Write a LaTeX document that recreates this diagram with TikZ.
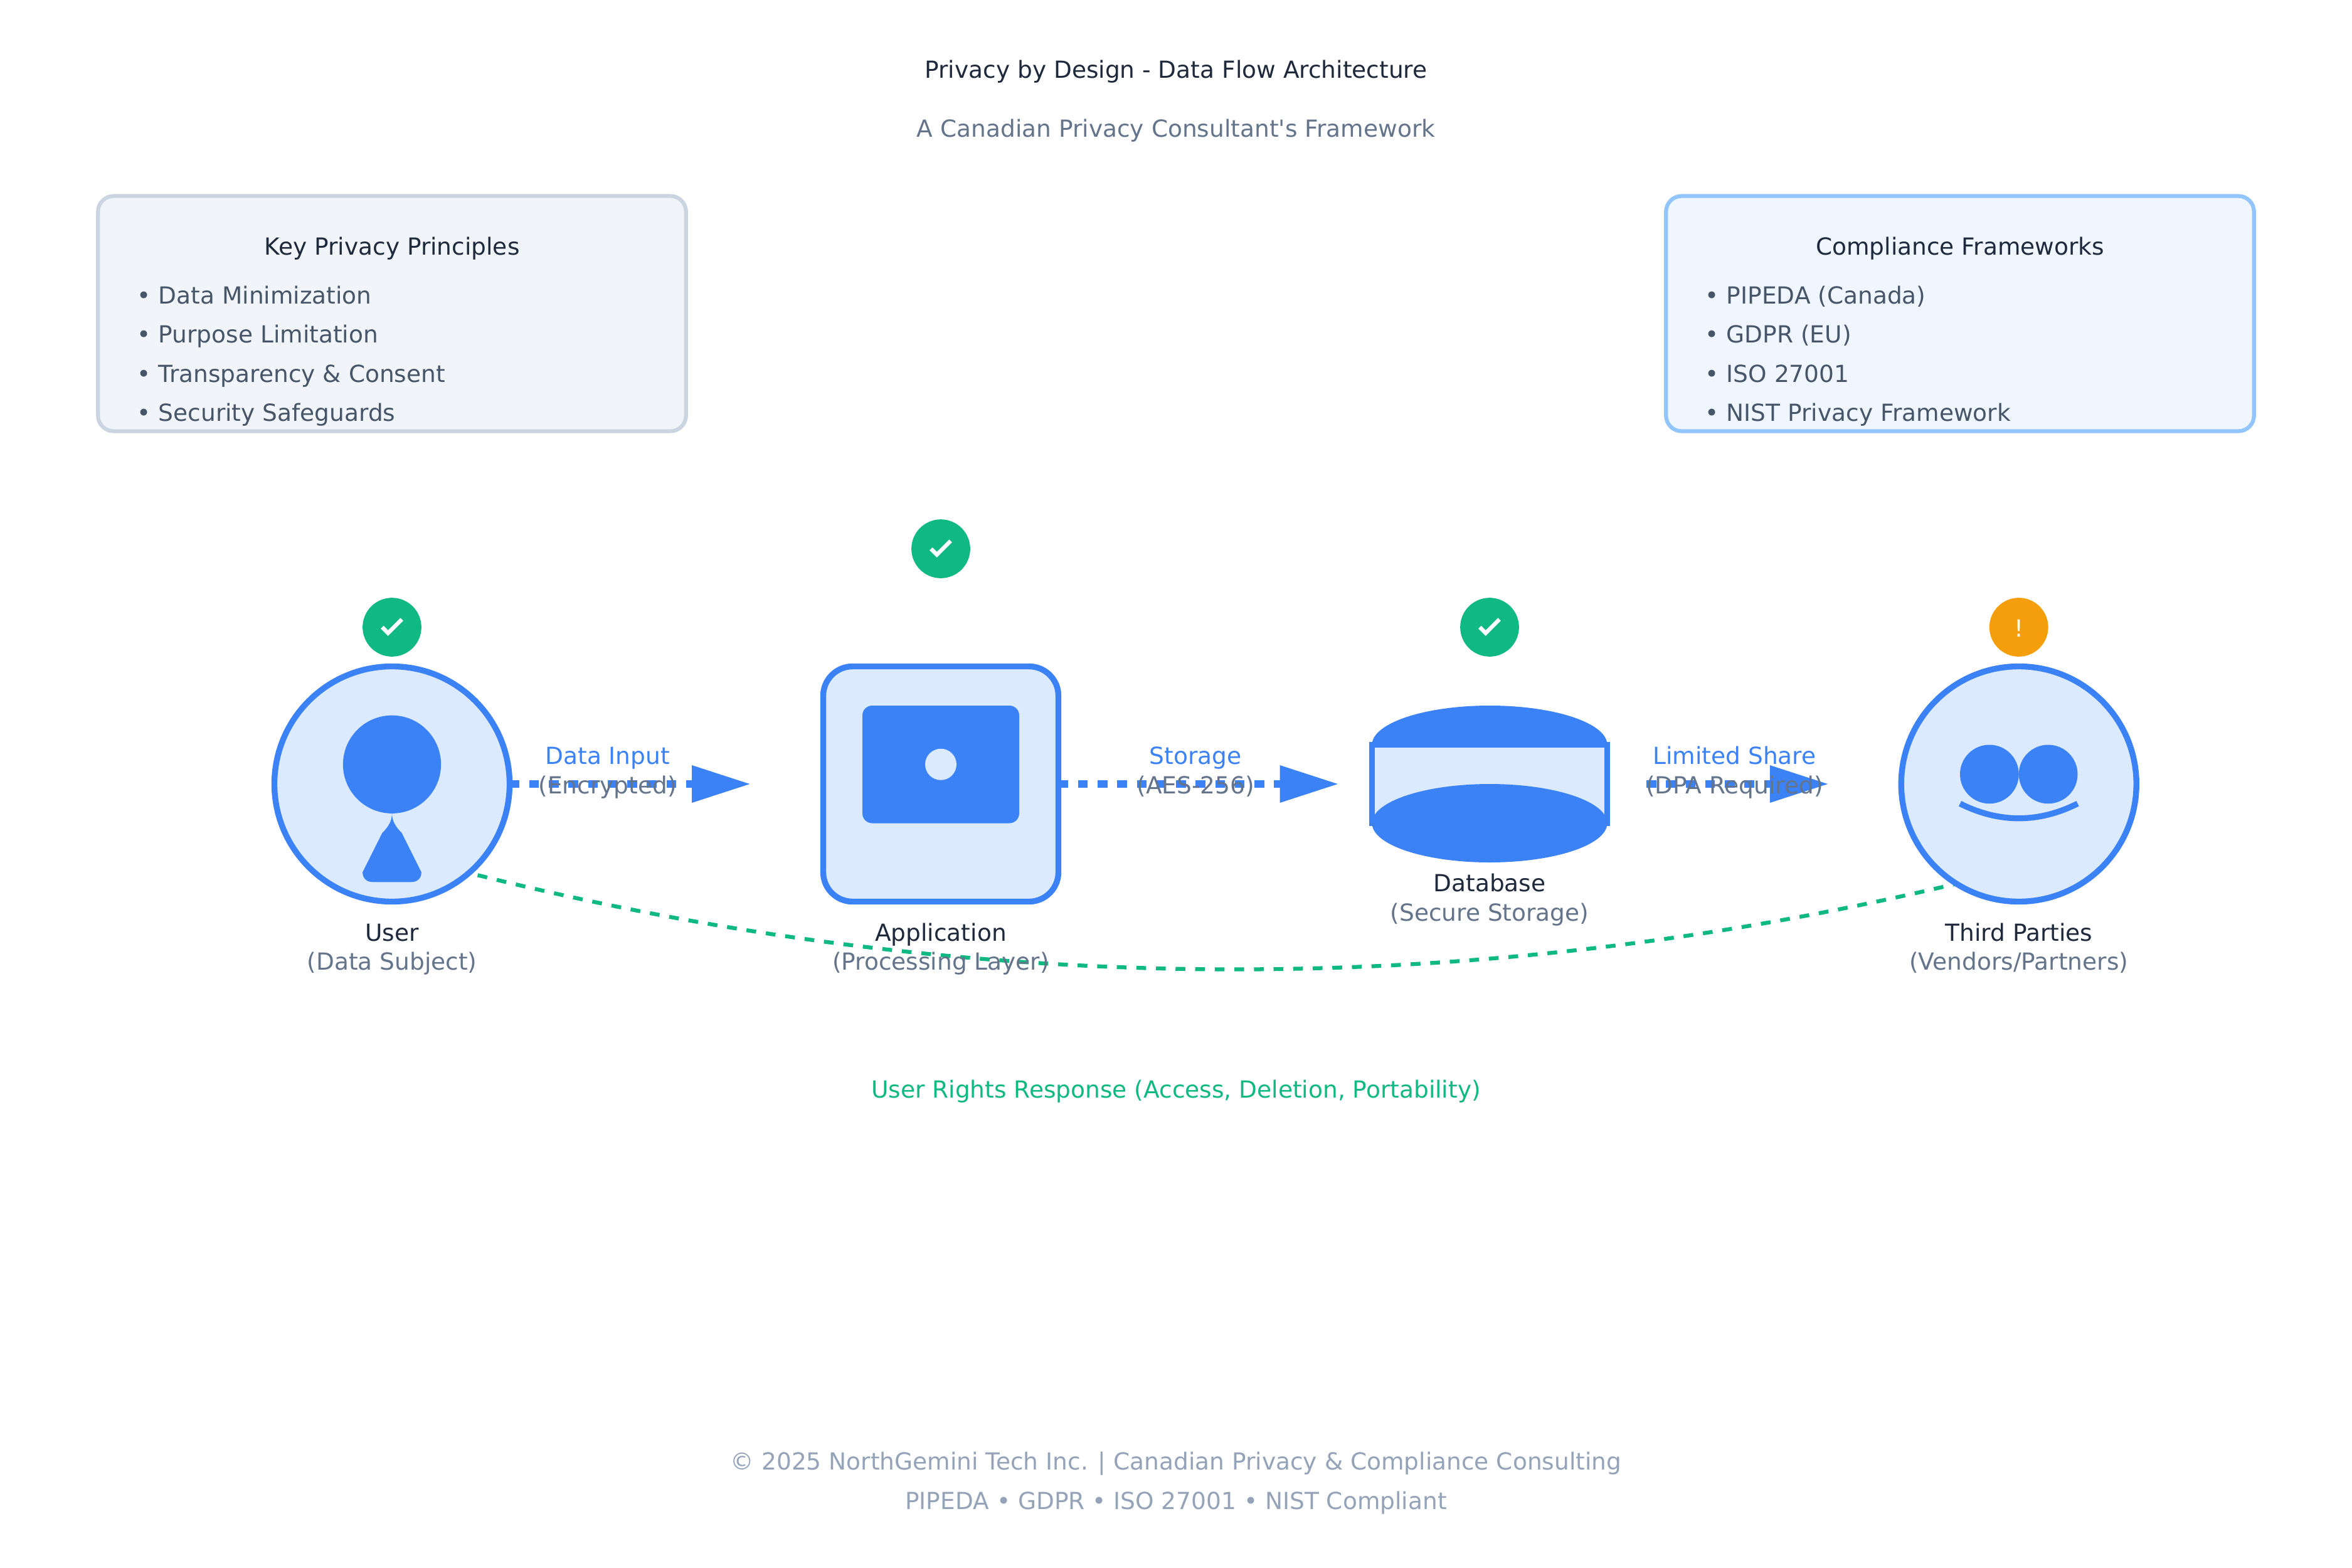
\documentclass[tikz,border=0pt]{standalone}
\usepackage{fontspec}
\setmainfont{DejaVu Sans}
\font\plainfont="DejaVu Sans" at 12pt
\usetikzlibrary{arrows.meta,calc}
\definecolor{cblue}{HTML}{3B82F6}
\definecolor{clight}{HTML}{DBEAFE}
\definecolor{cgreen}{HTML}{10B981}
\definecolor{corange}{HTML}{F59E0B}
\definecolor{cdark}{HTML}{1E293B}
\definecolor{cgrey}{HTML}{64748B}
\definecolor{cslate}{HTML}{475569}
\definecolor{cfoot}{HTML}{94A3B8}
\definecolor{lfill}{HTML}{F1F5F9}
\definecolor{lline}{HTML}{CBD5E1}
\definecolor{rfill}{HTML}{EFF6FF}
\definecolor{rline}{HTML}{93C5FD}
\tikzset{
  txt/.style={anchor=base,inner sep=0pt,outer sep=0pt,font=\fontsize{12}{14}\selectfont},
  head/.style={txt,text=cdark},
  subt/.style={txt,text=cgrey},
  flowlabel/.style={txt,text=cblue},
  item/.style={txt,anchor=base west,text=cslate},
  foot/.style={txt,text=cfoot},
  entity/.style={circle,draw=cblue,fill=clight,line width=3pt,minimum size=120pt,inner sep=0pt,outer sep=0pt},
  appbox/.style={rectangle,rounded corners=15pt,draw=cblue,fill=clight,line width=3pt,minimum width=120pt,minimum height=120pt,inner sep=0pt,outer sep=0pt},
  panel/.style={rectangle,rounded corners=8pt,line width=2pt,minimum width=300pt,minimum height=120pt,inner sep=0pt,outer sep=0pt},
  badge/.style={circle,minimum size=30pt,inner sep=0pt,outer sep=0pt},
  flow/.style={draw=cblue,line width=4pt,dash pattern=on 5pt off 5pt,-{Triangle[length=30pt,width=18pt,fill=cblue,sep=0pt]}},
  check/.style={draw=white,line width=2pt}
}
\begin{document}
\begin{tikzpicture}[x=1pt,y=-1pt]
\useasboundingbox (0,0) rectangle (1200,800);
\fill[white] (0,0) rectangle (1200,800);

\node[head] (title) at (600,40) {Privacy by Design - Data Flow Architecture};
\node[subt,font=\plainfont] (subtitle) at (600,70) {A Canadian Privacy Consultant's Framework};

\node[panel,draw=lline,fill=lfill] (left) at (200,160) {};
\node[head] (lefthead) at (200,130) {Key Privacy Principles};
\node[item] (l1) at (70,155) {• Data Minimization};
\node[item] (l2) at (70,175) {• Purpose Limitation};
\node[item] (l3) at (70,195) {• Transparency \& Consent};
\node[item] (l4) at (70,215) {• Security Safeguards};

\node[panel,draw=rline,fill=rfill] (right) at (1000,160) {};
\node[head] (righthead) at (1000,130) {Compliance Frameworks};
\node[item] (r1) at (870,155) {• PIPEDA (Canada)};
\node[item] (r2) at (870,175) {• GDPR (EU)};
\node[item] (r3) at (870,195) {• ISO 27001};
\node[item] (r4) at (870,215) {• NIST Privacy Framework};

% response curve, below the entities
\coordinate (respstart) at (200,435);
\coordinate (respctrl) at (615,550);
\coordinate (respend) at (1030,443);
\draw[cgreen,line width=2pt,dash pattern=on 5pt off 5pt,dash phase=4.8pt] (respstart) .. controls ($(respstart)!2/3!(respctrl)$) and ($(respend)!2/3!(respctrl)$) .. (respend);

% user
\node[entity] (user) at (200,400) {};
\fill[cblue] (200,390) circle (25);
\fill[cblue] (200,415) .. controls (200,419) and (202,422) .. (205,425) -- (215,445)
  .. controls (215,448) and (213,450) .. (210,450) -- (190,450)
  .. controls (187,450) and (185,448) .. (185,445) -- (195,425)
  .. controls (198,422) and (200,419) .. (200,415) -- cycle;
\node[badge,fill=cgreen] (b1) at (200,320) {};
\draw[check] (195,320) -- (198,323) -- (205,316);
\node[head] (userl) at (200,480) {User};
\node[subt] (users) at (200,495) {(Data Subject)};

% application
\node[appbox] (app) at (480,400) {};
\fill[cblue,rounded corners=5pt] (440,360) rectangle (520,420);
\fill[clight] (480,390) circle (8);
\node[badge,fill=cgreen] (b2) at (480,280) {};
\draw[check] (475,280) -- (478,283) -- (485,276);
\node[head] (appl) at (480,480) {Application};
\node[subt] (apps) at (480,495) {(Processing Layer)};

% database
\fill[cblue] (760,380) ellipse (60 and 20);
\node[rectangle,draw=cblue,fill=clight,line width=3pt,minimum width=120pt,minimum height=40pt,inner sep=0pt,outer sep=0pt] (db) at (760,400) {};
\fill[cblue] (760,420) ellipse (60 and 20);
\node[badge,fill=cgreen] (b3) at (760,320) {};
\draw[check] (755,320) -- (758,323) -- (765,316);
\node[head] (dbl) at (760,455) {Database};
\node[subt] (dbs) at (760,470) {(Secure Storage)};

% third parties
\node[entity] (third) at (1030,400) {};
\fill[cblue] (1015,395) circle (15);
\fill[cblue] (1045,395) circle (15);
\draw[cblue,line width=3pt] (1000,410) .. controls (1020,420) and (1040,420) .. (1060,410);
\node[badge,fill=corange] (b4) at (1030,320) {};
\node[txt,text=white] (warn) at (1030,325) {!};
\node[head] (thl) at (1030,480) {Third Parties};
\node[subt] (ths) at (1030,495) {(Vendors/Partners)};

% flows
\coordinate (e1) at (383,400);
\coordinate (e2) at (683,400);
\coordinate (e3) at (933,400);
\coordinate (s3) at (840,400);
\draw[flow] (user.east) -- (e1);
\draw[flow] (app.east) -- (e2);
\draw[flow] (s3) -- (e3);

\node[flowlabel] (f1) at (310,390) {Data Input};
\node[subt] (f1s) at (310,405) {(Encrypted)};
\node[flowlabel] (f2) at (610,390) {Storage};
\node[subt] (f2s) at (610,405) {(AES-256)};
\node[flowlabel] (f3) at (885,390) {Limited Share};
\node[subt] (f3s) at (885,405) {(DPA Required)};

\node[txt,text=cgreen] (rights) at (600,560) {User Rights Response (Access, Deletion, Portability)};
\node[foot] (foot1) at (600,750) {© 2025 NorthGemini Tech Inc. | Canadian Privacy \& Compliance Consulting};
\node[foot] (foot2) at (600,770) {PIPEDA • GDPR • ISO 27001 • NIST Compliant};
\end{tikzpicture}
\end{document}
